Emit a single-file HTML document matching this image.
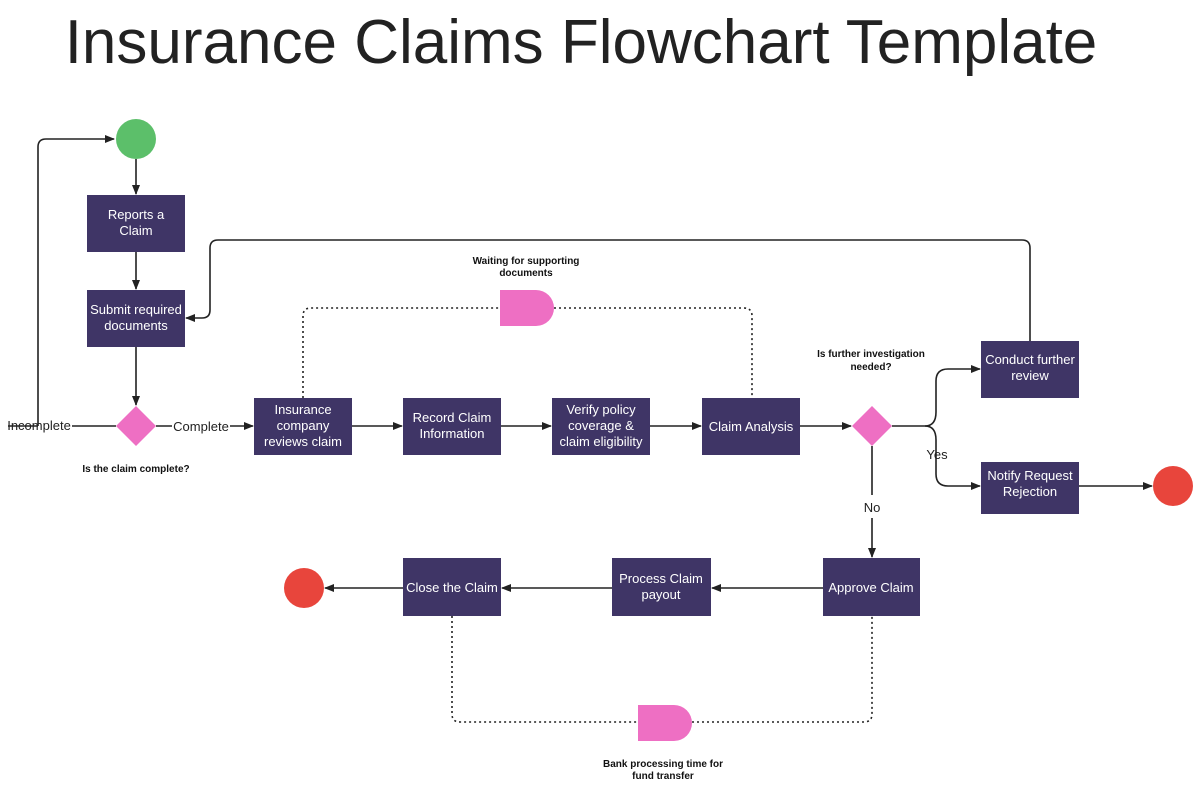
<!DOCTYPE html>
<html><head><meta charset="utf-8"><style>
html,body{margin:0;padding:0;background:#fff;}
svg{display:block;}
text{font-family:"Liberation Sans",Arial,sans-serif;}
.b{fill:#3f3566;}
.t{fill:#fff;font-size:13px;text-anchor:middle;}
.s{fill:#111;font-size:10px;font-weight:bold;text-anchor:middle;}
.l{stroke:#222;stroke-width:1.6;fill:none;}
.d{stroke:#222;stroke-width:1.6;fill:none;stroke-dasharray:2 3;}
</style></head><body>
<svg width="1200" height="788" viewBox="0 0 1200 788">
<defs><marker id="a" markerWidth="10" markerHeight="10" refX="9" refY="5" orient="auto" markerUnits="userSpaceOnUse"><path d="M0,1 L10,5 L0,9 z" fill="#222"/></marker></defs>
<text x="581" y="63" font-size="62" fill="#222" text-anchor="middle">Insurance Claims Flowchart Template</text>

<path class="l" d="M136,159 V194" marker-end="url(#a)"/>
<path class="l" d="M136,252 V289" marker-end="url(#a)"/>
<path class="l" d="M136,347 V405" marker-end="url(#a)"/>
<path class="l" d="M116,426 H72 M38,426 V147 Q38,139 46,139 H114" marker-end="url(#a)"/>
<path class="l" d="M38,426 H8" />
<path class="l" d="M156,426 H172 M230,426 H253" marker-end="url(#a)"/>
<path class="l" d="M352,426 H402" marker-end="url(#a)"/>
<path class="l" d="M501,426 H551" marker-end="url(#a)"/>
<path class="l" d="M650,426 H701" marker-end="url(#a)"/>
<path class="l" d="M800,426 H851" marker-end="url(#a)"/>
<path class="l" d="M892,426 H925 Q936,426 936,412 V381 Q936,369 948,369 H980" marker-end="url(#a)"/>
<path class="l" d="M925,426 Q936,426 936,440 V474 Q936,486 948,486 H980" marker-end="url(#a)"/>
<path class="l" d="M1079,486 H1152" marker-end="url(#a)"/>
<path class="l" d="M872,446 V495 M872,518 V557" marker-end="url(#a)"/>
<path class="l" d="M823,588 H712" marker-end="url(#a)"/>
<path class="l" d="M612,588 H502" marker-end="url(#a)"/>
<path class="l" d="M403,588 H325" marker-end="url(#a)"/>
<path class="l" d="M1030,341 V248 Q1030,240 1022,240 H218 Q210,240 210,248 V310 Q210,318 202,318 H186" marker-end="url(#a)"/>
<path class="d" d="M303,398 V316 Q303,308 311,308 H500 M554,308 H744 Q752,308 752,316 V398"/>
<path class="d" d="M452,616 V714 Q452,722 460,722 H638 M692,722 H864 Q872,722 872,714 V616"/>

<circle cx="136" cy="139" r="20" fill="#5cbf6a"/>
<circle cx="1173" cy="486" r="20" fill="#e8453c"/>
<circle cx="304" cy="588" r="20" fill="#e8453c"/>
<rect class="b" x="87" y="195" width="98" height="57"/>
<rect class="b" x="87" y="290" width="98" height="57"/>
<rect class="b" x="254" y="398" width="98" height="57"/>
<rect class="b" x="403" y="398" width="98" height="57"/>
<rect class="b" x="552" y="398" width="98" height="57"/>
<rect class="b" x="702" y="398" width="98" height="57"/>
<rect class="b" x="981" y="341" width="98" height="57"/>
<rect class="b" x="981" y="462" width="98" height="52"/>
<rect class="b" x="823" y="558" width="97" height="58"/>
<rect class="b" x="612" y="558" width="99" height="58"/>
<rect class="b" x="403" y="558" width="98" height="58"/>
<path d="M136,406 L156,426 L136,446 L116,426 z" fill="#ee6fc3"/>
<path d="M872,406 L892,426 L872,446 L852,426 z" fill="#ee6fc3"/>
<path d="M500,290 H536 A18,18 0 0 1 536,326 H500 z" fill="#ee6fc3"/>
<path d="M638,705 H674 A18,18 0 0 1 674,741 H638 z" fill="#ee6fc3"/>

<text class="t" x="136" y="219">Reports a</text><text class="t" x="136" y="235">Claim</text>
<text class="t" x="136" y="314">Submit required</text><text class="t" x="136" y="330">documents</text>
<text class="t" x="303" y="414">Insurance</text><text class="t" x="303" y="430">company</text><text class="t" x="303" y="446">reviews claim</text>
<text class="t" x="452" y="422">Record Claim</text><text class="t" x="452" y="438">Information</text>
<text class="t" x="601" y="414">Verify policy</text><text class="t" x="601" y="430">coverage &amp;</text><text class="t" x="601" y="446">claim eligibility</text>
<text class="t" x="751" y="431">Claim Analysis</text>
<text class="t" x="1030" y="364">Conduct further</text><text class="t" x="1030" y="380">review</text>
<text class="t" x="1030" y="480">Notify Request</text><text class="t" x="1030" y="496">Rejection</text>
<text class="t" x="871" y="592">Approve Claim</text>
<text class="t" x="661" y="583">Process Claim</text><text class="t" x="661" y="599">payout</text>
<text class="t" x="452" y="592">Close the Claim</text>
<text x="39" y="430" font-size="13" fill="#222" text-anchor="middle">Incomplete</text>
<text x="201" y="431" font-size="13" fill="#222" text-anchor="middle">Complete</text>
<text x="937" y="459" font-size="13" fill="#222" text-anchor="middle">Yes</text>
<text x="872" y="512" font-size="13" fill="#222" text-anchor="middle">No</text>
<text class="s" x="136" y="472">Is the claim complete?</text>
<text class="s" x="526" y="264">Waiting for supporting</text><text class="s" x="526" y="276">documents</text>
<text class="s" x="871" y="357">Is further investigation</text><text class="s" x="871" y="370">needed?</text>
<text class="s" x="663" y="767">Bank processing time for</text><text class="s" x="663" y="779">fund transfer</text>
</svg>
</body></html>
